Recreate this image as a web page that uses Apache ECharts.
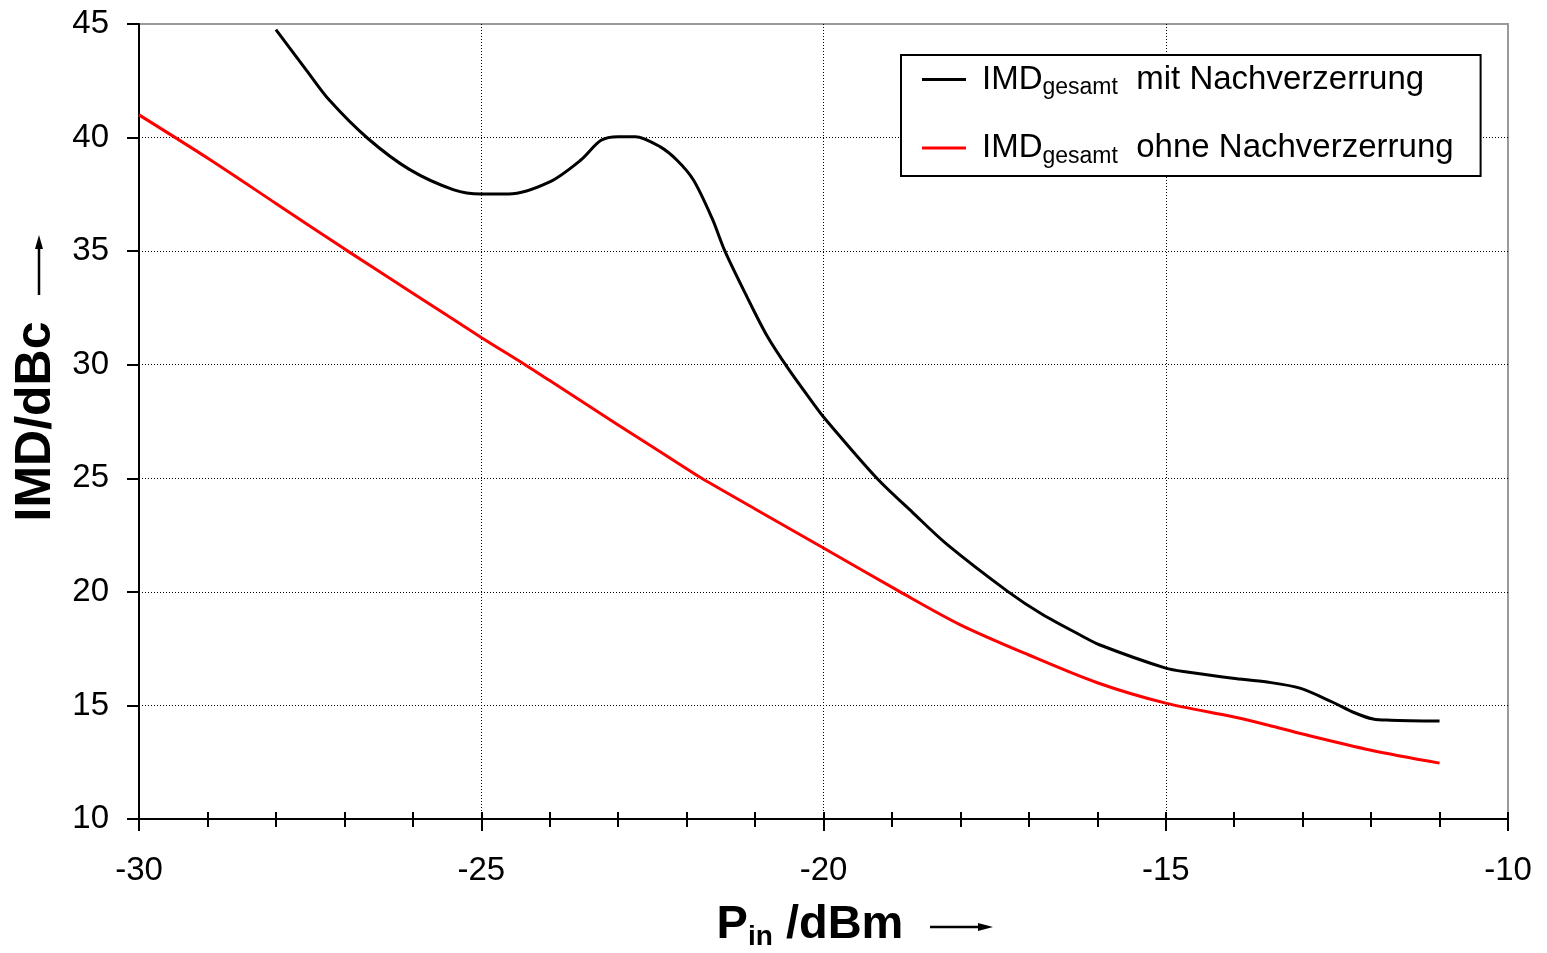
<!DOCTYPE html>
<html>
<head>
<meta charset="utf-8">
<script src="https://cdn.jsdelivr.net/npm/echarts@6/dist/echarts.min.js"></script>
<style>
html,body{margin:0;padding:0;background:#fff;}
#chart{width:1547px;height:953px;}
</style>
</head>
<body>
<div id="chart"></div>
<script>
// ---- data ----
const xTicks = [-30, -25, -20, -15, -10];
const yTicks = [10, 15, 20, 25, 30, 35, 40, 45];
const seriesNames = ['mit Nachverzerrung', 'ohne Nachverzerrung'];
const seriesColors = ['#000000', '#ff0000'];
const pinMit = [-28.0, -27.55, -27.22, -26.66, -26.05, -25.4, -25.0, -24.6, -24.0, -23.55, -23.25, -23.0, -22.75, -22.39, -22.14, -21.9, -21.63, -21.44, -21.12, -20.83, -20.52, -20.15, -20.0, -19.22, -18.7, -18.2, -17.3, -16.8, -16.25, -15.96, -15.0, -14.69, -14.02, -13.52, -13.04, -12.56, -12.26, -11.97, -11.72, -11.0];
const imdMit = [44.75, 42.95, 41.65, 39.97, 38.6, 37.7, 37.52, 37.52, 38.05, 39.0, 39.88, 40.04, 40.04, 39.6, 39.0, 38.13, 36.46, 35.0, 33.0, 31.3, 29.85, 28.3, 27.7, 25.0, 23.5, 22.1, 20.0, 19.0, 18.1, 17.66, 16.64, 16.47, 16.2, 16.03, 15.76, 15.14, 14.7, 14.4, 14.35, 14.31];
const pinOhne = [-30, -29, -28, -27, -26, -25, -24.36, -24, -23, -22, -21.78, -21, -20, -18.88, -18, -17, -16, -15, -14, -13.5, -13, -12, -11];
const imdOhne = [41.0, 39.1, 37.1, 35.1, 33.15, 31.2, 30.0, 29.3, 27.35, 25.42, 25.0, 23.65, 21.93, 20.0, 18.55, 17.22, 16.0, 15.1, 14.49, 14.13, 13.74, 13.03, 12.46];

const pairs = (xs, ys) => xs.map((x, i) => [x, ys[i]]);
const FONT = '"Liberation Sans", Arial, Helvetica, sans-serif';

const chart = echarts.init(document.getElementById('chart'), null, {renderer: 'canvas'});
const option = {
  animation: false,
  backgroundColor: '#ffffff',
  grid: {
    left: 139, right: 39, top: 24, bottom: 134,
    containLabel: false, outerBoundsMode: 'none',
    show: true, borderColor: '#9a9a9a', borderWidth: 2, backgroundColor: 'transparent'
  },
  legend: {
    orient: 'vertical',
    left: 901, top: 55,
    selectedMode: false,
    backgroundColor: '#fff',
    borderColor: '#000', borderWidth: 2,
    padding: [8, 27, 8, 21],
    itemWidth: 44, itemHeight: 3, itemGap: 32, itemTextGap: 5,
    icon: 'rect',
    data: seriesNames.map((n, i) => ({name: n, itemStyle: {color: seriesColors[i]}})),
    formatter: n => '{g| }{m|IMD}{s|gesamt}{m|  ' + n + '}',
    textStyle: {
      fontFamily: FONT, color: '#000',
      rich: {
        g: {fontFamily: FONT, fontSize: 33, width: 11, lineHeight: 40, verticalAlign: 'middle'},
        m: {fontFamily: FONT, fontSize: 33, color: '#000', lineHeight: 40, verticalAlign: 'middle'},
        s: {fontFamily: FONT, fontSize: 23, color: '#000', lineHeight: 21, verticalAlign: 'bottom'}
      }
    }
  },
  xAxis: [{
    type: 'value', min: xTicks[0], max: xTicks[xTicks.length - 1], interval: 5,
    position: 'bottom',
    axisLine: {show: true, onZero: false, lineStyle: {color: '#000', width: 2}},
    axisTick: {show: true, inside: false, length: 12, lineStyle: {color: '#000', width: 2}},
    minorTick: {show: true, splitNumber: 5, length: 8, lineStyle: {color: '#000', width: 2}},
    axisLabel: {show: true, color: '#000', fontFamily: FONT, fontSize: 33, margin: 35, showMinLabel: true, showMaxLabel: true},
    splitLine: {show: true, showMinLine: false, showMaxLine: false, lineStyle: {color: '#000', width: 1, type: [1, 2]}},
    name: '{b|P}{i|in}{b| /dBm}',
    nameLocation: 'middle', nameGap: 80,
    nameTextStyle: {
      padding: [0, 27, 0, 0],
      rich: {
        b: {fontFamily: FONT, fontWeight: 'bold', fontSize: 47, color: '#000', lineHeight: 52, verticalAlign: 'middle'},
        i: {fontFamily: FONT, fontWeight: 'bold', fontSize: 28, color: '#000', lineHeight: 26, verticalAlign: 'bottom'}
      }
    }
  }, {
    type: 'value', min: xTicks[0], max: xTicks[xTicks.length - 1], interval: 5,
    position: 'bottom',
    axisLine: {show: false, onZero: false},
    axisTick: {show: true, inside: true, length: 7, lineStyle: {color: '#000', width: 2}},
    minorTick: {show: true, splitNumber: 5, length: 7, lineStyle: {color: '#000', width: 2}},
    axisLabel: {show: false},
    splitLine: {show: false}
  }],
  yAxis: {
    type: 'value', min: yTicks[0], max: yTicks[yTicks.length - 1], interval: 5,
    axisLine: {show: true, onZero: false, lineStyle: {color: '#000', width: 2}},
    axisTick: {show: true, inside: false, length: 12, lineStyle: {color: '#000', width: 2}},
    axisLabel: {show: true, color: '#000', fontFamily: FONT, fontSize: 33, margin: 30, showMinLabel: true, showMaxLabel: true},
    splitLine: {show: true, showMinLine: false, showMaxLine: false, lineStyle: {color: '#000', width: 1, type: [1, 2]}},
    name: 'IMD/dBc',
    nameLocation: 'middle', nameGap: 70, nameRotate: 90,
    nameTextStyle: {fontFamily: FONT, fontWeight: 'bold', fontSize: 50, color: '#000'}
  },
  graphic: [
    {type: 'line', shape: {x1: 930, y1: 927, x2: 982, y2: 927}, style: {stroke: '#000', lineWidth: 2.5}},
    {type: 'polygon', shape: {points: [[978, 923], [993, 927], [978, 931]]}, style: {fill: '#000'}},
    {type: 'line', shape: {x1: 39, y1: 295, x2: 39, y2: 245}, style: {stroke: '#000', lineWidth: 2.5}},
    {type: 'polygon', shape: {points: [[35, 249], [39, 235], [43, 249]]}, style: {fill: '#000'}}
  ],
  series: [{
    name: seriesNames[0], type: 'line', xAxisIndex: 0,
    data: pairs(pinMit, imdMit), symbol: 'none', smooth: 0.3,
    lineStyle: {color: seriesColors[0], width: 3}, itemStyle: {color: seriesColors[0]}, z: 3
  }, {
    name: seriesNames[1], type: 'line', xAxisIndex: 0,
    data: pairs(pinOhne, imdOhne), symbol: 'none', smooth: 0.3,
    lineStyle: {color: seriesColors[1], width: 3}, itemStyle: {color: seriesColors[1]}, z: 2
  }]
};
chart.setOption(option);
</script>
</body>
</html>
